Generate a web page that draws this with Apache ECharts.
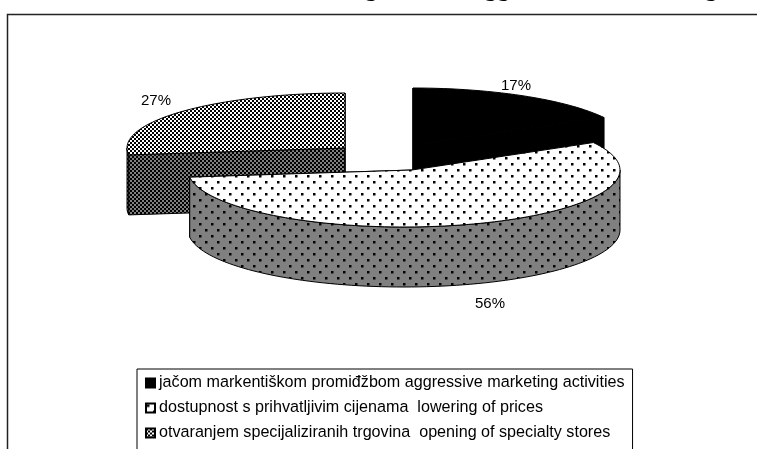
<!DOCTYPE html>
<html>
<head>
    <meta charset="UTF-8">
    <title>ECharts</title>
    <script src="https://cdn.jsdelivr.net/npm/echarts@6/dist/echarts.min.js"></script>
    <style>
        html, body { margin: 0; padding: 0; background: #fff; }
    </style>
</head>
<body>
    <div id="main" style="width: 757px;height:449px;"></div>
    <script type="text/javascript">
        var categories = [
            'jačom markentiškom promiđžbom aggressive marketing activities',
            'dostupnost s prihvatljivim cijenama  lowering of prices',
            'otvaranjem specijaliziranih trgovina  opening of specialty stores'
        ];
        var shares = [17, 56, 27];

        // cropped heading above the frame, only the descenders show
        var headingBits = ['g', 'gg', 'g'];

        // where each exploded slice sits on the page
        var sliceLayout = [
            { cx: 413, cy: 145, rx: 218, ry: 57, apexDx: 0, labelDx: 103, labelDy: -60 },
            { cx: 404, cy: 170, rx: 216, ry: 57, apexDx: 8, labelDx: 86, labelDy: 133 },
            { cx: 345, cy: 148, rx: 218, ry: 55, apexDx: 0, labelDx: -189, labelDy: -48 }
        ];
        var depth = 60;
        var font = '"Liberation Sans", Arial, sans-serif';

        // small repeating tiles, the old office-style hatch fills
        function tile(w, h, bg, draw) {
            var c = document.createElement('canvas');
            c.width = w;
            c.height = h;
            var ctx = c.getContext('2d');
            ctx.fillStyle = bg;
            ctx.fillRect(0, 0, w, h);
            ctx.fillStyle = '#000';
            draw(ctx);
            return { image: c, repeat: 'repeat' };
        }
        function dots(ctx) {
            ctx.fillRect(1, 1, 2.5, 2.5);
            ctx.fillRect(7, 7, 2.5, 2.5);
        }
        function checker(ctx) {
            ctx.fillRect(0, 0, 2, 2);
            ctx.fillRect(2, 2, 2, 2);
        }
        var topFills = ['#000', tile(12, 12, '#fff', dots), tile(4, 4, '#fff', checker)];
        var sideFills = ['#000', tile(12, 12, '#808080', dots), tile(4, 4, '#808080', checker)];

        var total = shares.reduce(function (a, b) { return a + b; }, 0);

        function renderSlice(index) {
            return function (params, api) {
                var s = sliceLayout[index];
                var apex = [s.cx + s.apexDx, s.cy];
                var before = 0;
                for (var i = 0; i < index; i++) {
                    before += shares[i];
                }
                var a0 = before / total * 360;
                var a1 = (before + api.value(0)) / total * 360;

                function rim(deg, drop) {
                    var r = deg * Math.PI / 180;
                    return [s.cx + s.rx * Math.sin(r), s.cy - s.ry * Math.cos(r) + (drop || 0)];
                }
                function arc(from, to, drop) {
                    var pts = [];
                    for (var d = from; d < to; d += 2) {
                        pts.push(rim(d, drop));
                    }
                    pts.push(rim(to, drop));
                    return pts;
                }
                function poly(points, fill) {
                    return {
                        type: 'polygon',
                        shape: { points: points },
                        style: { fill: fill, stroke: '#000', lineWidth: 1 }
                    };
                }

                var children = [];
                var side = sideFills[index];
                // the two cut faces
                [a0, a1].forEach(function (a) {
                    children.push(poly([apex, rim(a), rim(a, depth), [apex[0], apex[1] + depth]], side));
                });
                // outer wall, front half only
                var w0 = Math.max(a0, 90);
                var w1 = Math.min(a1, 270);
                if (w1 > w0) {
                    children.push(poly(arc(w0, w1, 0).concat(arc(w0, w1, depth).reverse()), side));
                }
                // top surface
                children.push(poly([apex].concat(arc(a0, a1, 0)), topFills[index]));
                // percent label
                children.push({
                    type: 'text',
                    style: {
                        text: api.value(0) + '%',
                        x: s.cx + s.labelDx,
                        y: s.cy + s.labelDy + 1,
                        fill: '#000',
                        font: '15px ' + font,
                        align: 'center',
                        verticalAlign: 'middle'
                    }
                });
                return { type: 'group', children: children };
            };
        }

        // dotted slice has to end up over the other two
        var sliceZ = [2, 3, 1];
        var series = categories.map(function (name, i) {
            return {
                name: name,
                type: 'custom',
                coordinateSystem: 'none',
                z: sliceZ[i],
                silent: true,
                renderItem: renderSlice(i),
                itemStyle: { color: topFills[i], borderColor: '#000', borderWidth: 1 },
                data: [[shares[i]]]
            };
        });

        var headingX = [371, 497, 711];

        var chart = echarts.init(document.getElementById('main'), null, { renderer: 'canvas' });
        chart.setOption({
            animation: false,
            backgroundColor: '#fff',
            legend: {
                orient: 'vertical',
                left: 137,
                top: 369,
                height: 160,
                padding: [6, 8, 40, 8],
                itemGap: 9,
                itemWidth: 9,
                itemHeight: 9,
                icon: 'rect',
                borderColor: '#000',
                borderWidth: 1,
                selectedMode: false,
                textStyle: { color: '#000', fontFamily: font, fontSize: 16.15, padding: [0, 0, 0, -1] },
                data: categories
            },
            graphic: [
                {
                    type: 'rect',
                    silent: true,
                    z: -1,
                    shape: { x: 7.5, y: 14.5, width: 800, height: 500 },
                    style: { fill: 'none', stroke: '#222', lineWidth: 1.5 }
                }
            ].concat(headingBits.map(function (t, i) {
                return {
                    type: 'text',
                    silent: true,
                    style: {
                        text: t,
                        x: headingX[i],
                        y: 2.5,
                        fill: '#000',
                        font: '26px "Liberation Serif", serif',
                        align: 'center',
                        verticalAlign: 'bottom'
                    }
                };
            })),
            series: series
        });
    </script>
</body>
</html>
